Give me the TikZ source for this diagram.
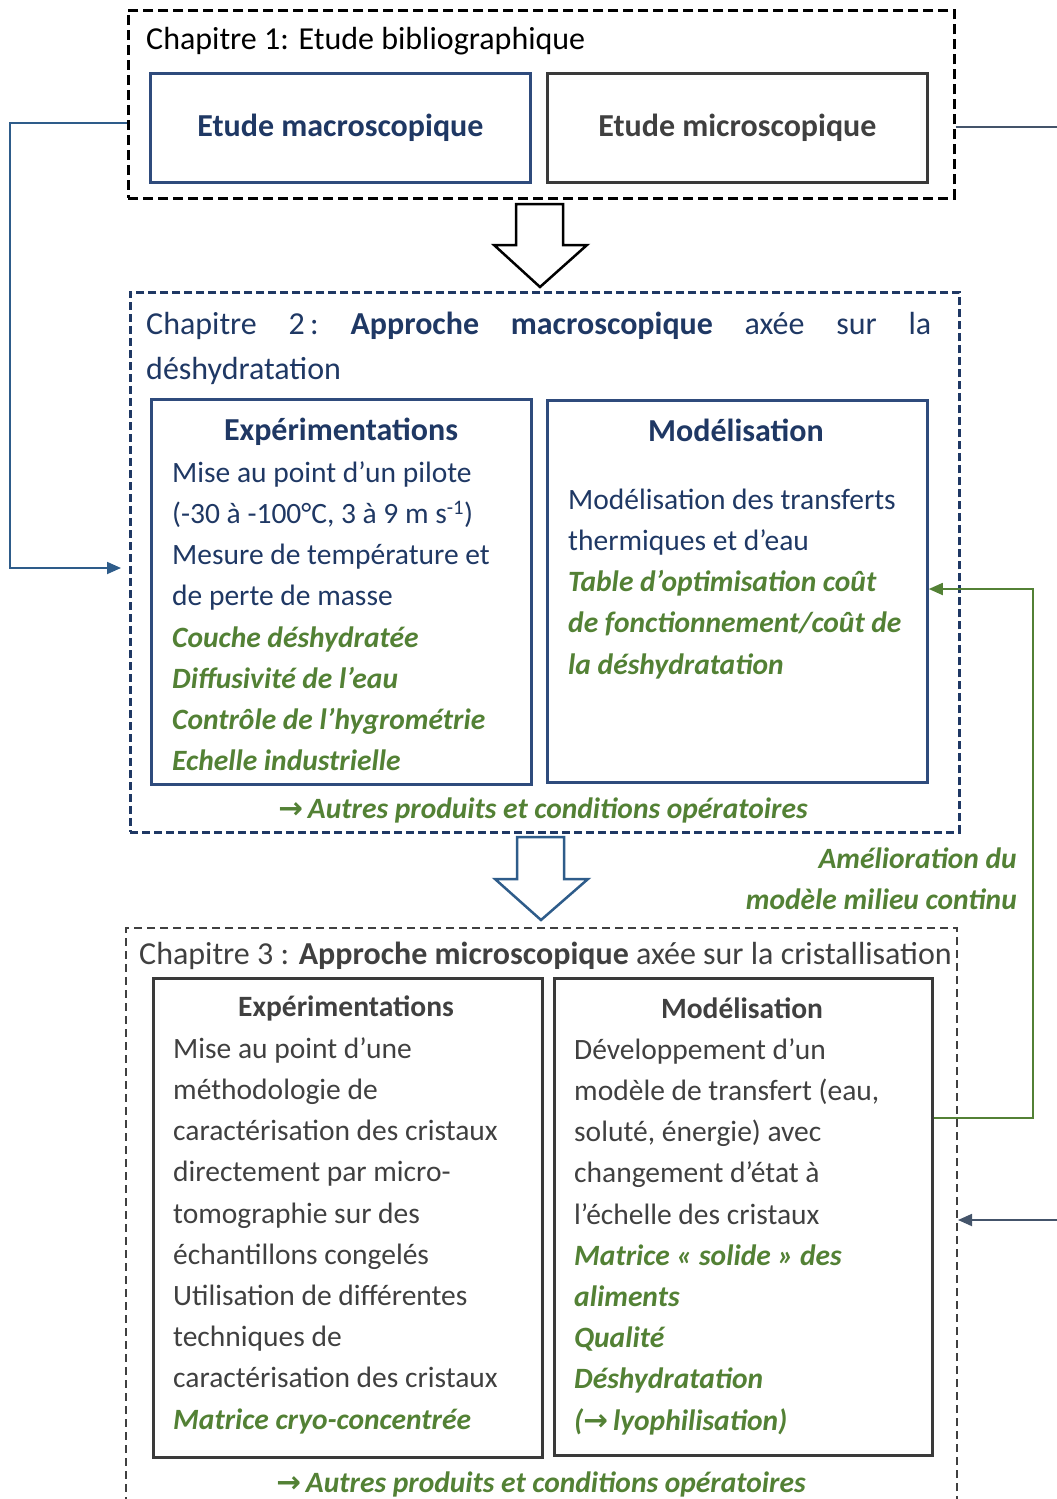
\documentclass[tikz,border=0pt]{standalone}
\usepackage{fontspec}
\setmainfont{Carlito}
\newfontfamily\arrowfont{DejaVu Sans}
\usetikzlibrary{arrows.meta}
\definecolor{navytxt}{HTML}{1F3864}
\definecolor{navyline}{HTML}{2F4B7C}
\definecolor{bluearr}{HTML}{2E5C8A}
\definecolor{greytxt}{HTML}{404040}
\definecolor{greyline}{HTML}{3A3A3A}
\definecolor{greenc}{HTML}{538135}
\definecolor{slate}{HTML}{44546A}
\newcommand{\bodyfont}{\fontsize{29.5}{41.2}\selectfont}
\newcommand{\bigfont}{\fontsize{32}{41.2}\selectfont}
\newcommand{\gr}[1]{{\color{greenc}\bfseries\itshape #1}}
\newcommand{\rarr}{{\arrowfont\bfseries →}}
\begin{document}
\begin{tikzpicture}[x=1pt,y=-1pt,
  chapbox/.style={draw, inner sep=0pt, anchor=north west},
  innerbox/.style={draw, line width=2.8pt, inner sep=0pt, anchor=north west},
  bodytxt/.style={font=\bodyfont, align=left, inner sep=0pt, anchor=north west},
  headtxt/.style={inner sep=0pt, anchor=base},
  conn/.style={line width=1.8pt, -{Triangle[length=14pt,width=12pt]}},
  blockarrow/.style={line width=2.5pt, fill=white, line join=miter}
]
\useasboundingbox (0,0) rectangle (1057,1499);

% ---------- Chapter 1 ----------
\node[chapbox, line width=2.6pt, dash pattern=on 10pt off 5pt, minimum width=826, minimum height=188] (ch1) at (127,9) {};
\node[font=\bigfont, inner sep=0pt, anchor=base west] (t1) at (146,49) {Chapitre 1: Etude bibliographique};
\node[innerbox, draw=navyline, minimum width=380, minimum height=109, font=\bigfont\bfseries, text=navytxt] (macro) at (149,72) {Etude macroscopique};
\node[innerbox, draw=greyline, minimum width=380, minimum height=109, font=\bigfont\bfseries, text=greytxt] (micro) at (546,72) {Etude microscopique};

% block arrow 1
\draw[blockarrow, draw=black] (516,204) -- (563,204) -- (563,245) -- (587,245) -- (540,287) -- (494,245) -- (516,245) -- cycle;

% ---------- Chapter 2 ----------
\node[chapbox, draw=navytxt, line width=2.5pt, dash pattern=on 8pt off 4pt, minimum width=829, minimum height=540] (ch2) at (129,291) {};
\node[font=\bigfont, text=navytxt, inner sep=0pt, anchor=base west] (t2a) at (146,334) {\makebox[785pt][l]{Chapitre\hfill 2\,:\hfill\textbf{Approche}\hfill\textbf{macroscopique}\hfill axée\hfill sur\hfill la}};
\node[font=\bigfont, text=navytxt, inner sep=0pt, anchor=base west] (t2b) at (146,379) {déshydratation};

\node[innerbox, draw=navyline, minimum width=380, minimum height=385] (e2) at (150,398) {};
\node[headtxt, font=\bigfont\bfseries, text=navytxt] (e2h) at (341,440) {Expérimentations};
\node[bodytxt, text=navytxt] (e2t) at (172,453.16) {\strut Mise au point d’un pilote\\
(-30 à -100°C, 3 à 9 m s\textsuperscript{-1})\\
Mesure de température et\\
de perte de masse\\
\gr{Couche déshydratée}\\
\gr{Diffusivité de l’eau}\\
\gr{Contrôle de l’hygrométrie}\\
\gr{Echelle industrielle}};

\node[innerbox, draw=navyline, minimum width=380, minimum height=382] (m2) at (546,399) {};
\node[headtxt, font=\bigfont\bfseries, text=navytxt] (m2h) at (736,441) {Modélisation};
\node[bodytxt, text=navytxt] (m2t) at (568,480.16) {\strut Modélisation des transferts\\
thermiques et d’eau\\
\gr{Table d’optimisation coût}\\
\gr{de fonctionnement/coût de}\\
\gr{la déshydratation}};

\node[font=\bodyfont, text=greenc, inner sep=0pt, anchor=base] (a2) at (543,818) {\bfseries\itshape\rarr\,Autres produits et conditions opératoires};

% block arrow 2
\draw[blockarrow, draw=bluearr] (517,837) -- (564,837) -- (564,879) -- (588,879) -- (541,920) -- (495,879) -- (517,879) -- cycle;

\node[font=\bodyfont, text=greenc, inner sep=0pt, anchor=base east] (am1) at (1017,868) {\bfseries\itshape Amélioration du};
\node[font=\bodyfont, text=greenc, inner sep=0pt, anchor=base east] (am2) at (1017,909) {\bfseries\itshape modèle milieu continu};

% ---------- Chapter 3 ----------
\node[chapbox, draw=greytxt, line width=2pt, dash pattern=on 8pt off 5pt, minimum width=831, minimum height=603] (ch3) at (125,927) {};
\node[font=\bigfont, text=greytxt, inner sep=0pt, anchor=base west] (t3) at (139,964) {Chapitre 3 : \textbf{Approche microscopique} axée sur la cristallisation};

\node[innerbox, draw=greyline, minimum width=389, minimum height=479] (e3) at (152,977) {};
\node[headtxt, font=\bodyfont\bfseries, text=greytxt] (e3h) at (346,1016) {Expérimentations};
\node[bodytxt, text=greytxt] (e3t) at (173,1029.16) {\strut Mise au point d’une\\
méthodologie de\\
caractérisation des cristaux\\
directement par micro-\\
tomographie sur des\\
échantillons congelés\\
Utilisation de différentes\\
techniques de\\
caractérisation des cristaux\\
\gr{Matrice cryo-concentrée}};

\node[innerbox, draw=greyline, minimum width=378, minimum height=477] (m3) at (553,977) {};
\node[headtxt, font=\bodyfont\bfseries, text=greytxt] (m3h) at (742,1018) {Modélisation};
\node[bodytxt, text=greytxt] (m3t) at (574,1030.16) {\strut Développement d’un\\
modèle de transfert (eau,\\
soluté, énergie) avec\\
changement d’état à\\
l’échelle des cristaux\\
\gr{Matrice « solide » des}\\
\gr{aliments}\\
\gr{Qualité}\\
\gr{Déshydratation}\\
\gr{(\rarr\,lyophilisation)}};

\node[font=\bodyfont, text=greenc, inner sep=0pt, anchor=base] (a3) at (541,1492) {\bfseries\itshape\rarr\,Autres produits et conditions opératoires};

% ---------- connectors ----------
\coordinate (lc1) at (10,123);
\coordinate (lc2) at (10,568);
\draw[conn, draw=bluearr, shorten >=8pt] (ch1.west |- lc1) -- (lc1) -- (lc2) -- (ch2.west |- lc2);

\coordinate (rc1) at (1080,127);
\coordinate (rc2) at (1080,1220);
\draw[conn, draw=slate] (ch1.east |- rc1) -- (rc1) -- (rc2) -- (ch3.east |- rc2);

\coordinate (gc1) at (1033,1118);
\coordinate (gc2) at (1033,589);
\draw[conn, draw=greenc] (m3.east |- gc1) -- (gc1) -- (gc2) -- (m2.east |- gc2);
\end{tikzpicture}
\end{document}
